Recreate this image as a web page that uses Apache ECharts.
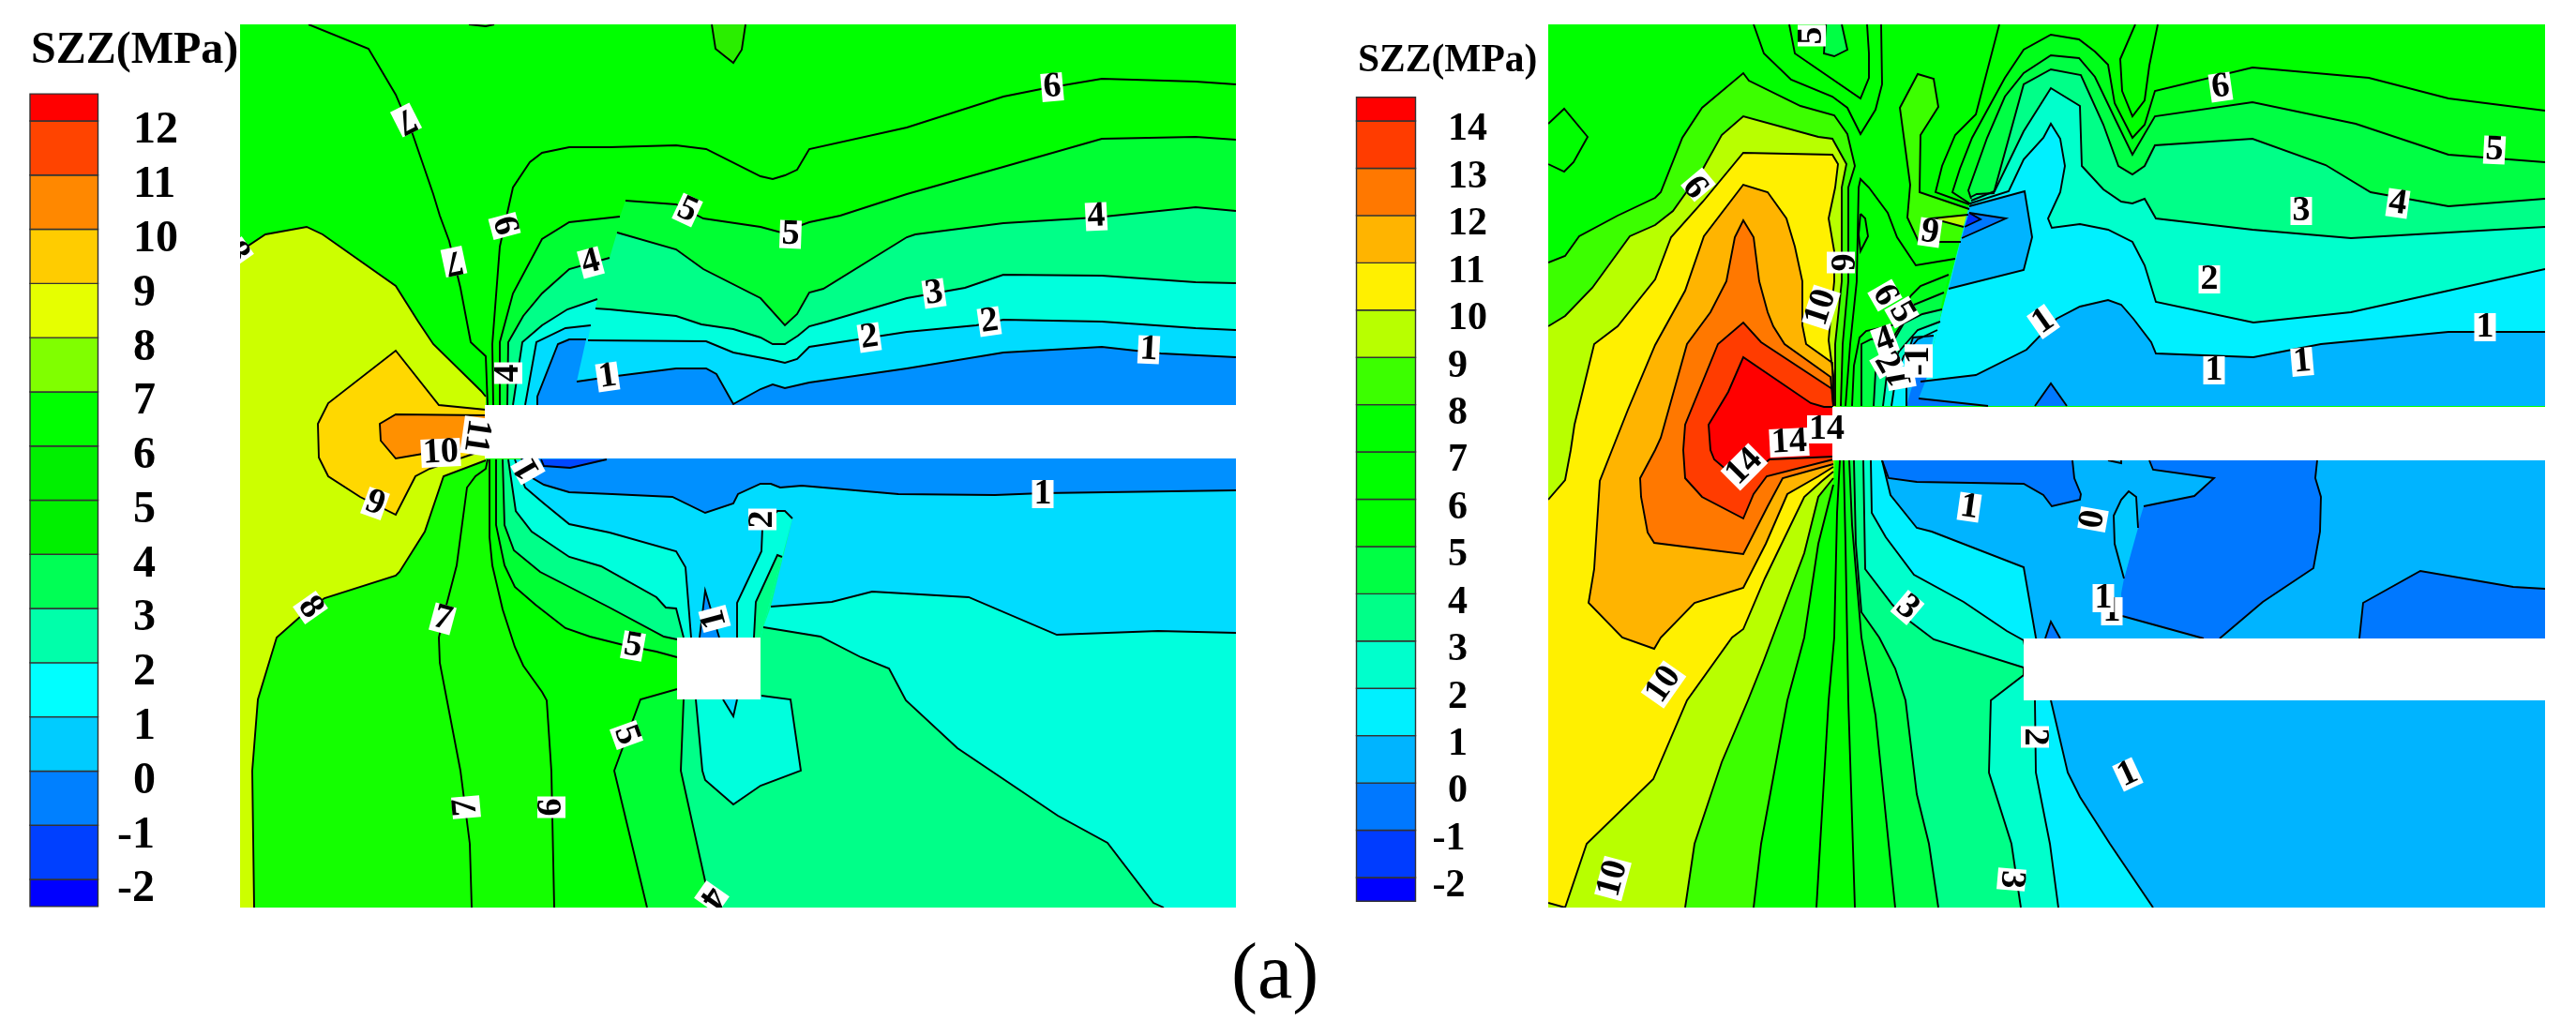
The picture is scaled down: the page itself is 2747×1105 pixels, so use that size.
<!DOCTYPE html>
<html><head><meta charset="utf-8">
<style>html,body{margin:0;background:#fff}#c{width:2747px;height:1105px}</style>
<script src="https://cdn.jsdelivr.net/npm/echarts@6/dist/echarts.min.js"></script>
</head><body><div id="c"></div>
<script>
// ---------- colour scales (low to high) and tick levels
const leftLevels=[-2,-1,0,1,2,3,4,5,6,7,8,9,10,11,12];
const leftScale=['#0000ff','#0040ff','#0080ff','#00ccff','#00ffff','#00ffaa','#00ff55','#00f000','#00f000','#00ff00','#80ff00','#e6ff00','#ffcc00','#ff8800','#ff4400','#ff0000'];
const rightLevels=[-2,-1,0,1,2,3,4,5,6,7,8,9,10,11,12,13,14];
const rightScale=['#0000ff','#003cff','#0078ff','#00b4ff','#00f0ff','#00ffcc','#00ff88','#00ff44','#00ff00','#00ff00','#00ff00','#3cff00','#b8ff00','#fff000','#ffb400','#ff7800','#ff3c00','#ff0000'];

// ---------- left panel contour lines (spatial axis units)
const L7top=[[329,26],[393,52],[422,101],[440,143],[462,207],[469,230],[479,257],[491,307],[502,365],[518,380],[520,432]];
const L8up=[[256,268],[283,250],[327,242],[344,250],[422,305],[446,343],[462,367],[513,417],[518,423]];
const L8low=[[518,491],[473,508],[453,567],[426,610],[422,614],[346,638],[321,657],[295,680],[275,746],[269,822],[271,968]];
const L9=[[518,437],[468,432],[422,374],[350,430],[339,452],[340,488],[350,508],[384,530],[422,549],[443,508],[458,500],[505,484],[518,482]];
const L10=[[518,443],[422,442],[405,452],[406,470],[422,489],[451,484],[518,477]];
const L6up=[[526,432],[525,367],[533,263],[547,200],[565,173],[578,163],[607,157],[650,157],[721,155],[753,159],[811,188],[824,191],[837,187],[850,181],[863,159],[967,136],[1070,103],[1110,95],[1175,84],[1275,87],[1318,90]];
const L5a=[[533,432],[533,365],[547,313],[578,255],[607,237],[661,231]];
const L5b=[[667,214],[721,218],[750,233],[811,242],[833,248],[863,237],[896,230],[967,207],[1070,178],[1175,148],[1275,146],[1318,149]];
const L4a=[[541,432],[542,365],[558,337],[578,313],[607,287],[650,275]];
const L4b=[[658,248],[721,266],[750,287],[811,318],[837,347],[850,335],[863,312],[878,308],[967,253],[976,250],[1070,238],[1168,232],[1275,221],[1318,225]];
const L3a=[[547,432],[557,365],[578,347],[605,330],[637,319]];
const L3b=[[635,329],[650,330],[721,337],[748,346],[782,351],[811,360],[824,367],[837,367],[851,358],[863,348],[882,343],[967,318],[1029,307],[1070,293],[1175,294],[1275,301],[1318,302]];
const L2a=[[560,432],[572,365],[603,350],[630,347]];
const L2b=[[627,363],[753,364],[782,376],[824,384],[837,387],[850,383],[863,370],[967,354],[1041,347],[1070,341],[1175,343],[1275,350],[1318,352]];
const L1a=[[573,432],[573,423],[595,367],[607,362],[625,362]];
const L1b=[[615,407],[650,402],[721,393],[753,393],[764,399],[782,431],[811,415],[824,410],[837,414],[863,408],[967,393],[1070,376],[1175,370],[1238,377],[1318,381]];
const LtopNub=[[759,26],[763,52],[773,60],[782,67],[791,53],[795,26]];
const LtopTiny=[[500,26],[518,28],[527,26]];
const L7low=[[520,490],[518,500],[507,508],[498,520],[487,603],[473,657],[468,680],[469,707],[491,822],[501,900],[503,968]];
const L6low=[[522,490],[522,573],[525,603],[536,650],[549,690],[558,710],[578,738],[583,747],[588,823],[591,968]];
const L5low=[[529,490],[529,560],[538,603],[549,626],[571,645],[603,670],[629,679],[665,688],[700,695],[722,701]];
const L5under=[[722,735],[683,746],[655,822],[690,968]];
const L4low=[[536,490],[538,560],[548,587],[576,610],[650,648],[708,679],[722,682]];
const L4under=[[729,746],[726,822],[752,940],[762,968]];
const L3low=[[542,490],[550,545],[567,567],[607,594],[641,604],[700,637],[710,648],[721,649],[729,680]];
const L2low=[[549,490],[560,520],[580,537],[607,559],[650,568],[721,588],[731,605],[737,680]];
const L2spike=[[786,680],[786,643],[812,588],[813,563],[829,545],[837,545],[845,553]];
const L3spike=[[804,680],[806,642],[829,592],[834,594]];
const L2right=[[822,647],[887,642],[930,631],[1033,637],[1127,677],[1235,673],[1318,675]];
const L3right=[[814,669],[875,679],[918,701],[948,713],[966,747],[1021,798],[1128,870],[1181,899],[1230,963],[1241,968]];
const L1low=[[556,489],[568,510],[580,517],[607,525],[653,527],[717,530],[752,547],[782,537],[787,527],[811,516],[822,516],[832,520],[855,518],[958,527],[1061,528],[1112,526],[1318,523]];
const L0low=[[577,490],[580,497],[608,499],[647,490]];
const LblueSpike=[[746,680],[752,630],[767,680]];
const Lpocket=[[742,746],[749,822],[752,832],[782,858],[811,838],[854,822],[843,746],[812,742]];
const LpocketSpike=[[771,746],[782,764],[786,746]];
const leftFills=[
 ['#00ff00',[[256,26],[1318,26],[1318,968],[256,968]]],
 ['#2aee00',LtopNub],
 ['#14ff00',[...L6low,[256,968],[256,489]]],
 ['#ccff00',[...L8up,...L8low,[256,968]]],
 ['#ffd800',L9],
 ['#ff9000',L10],
 ['#00ff33',[...L5a,...L5b,[1318,432]]],
 ['#00ff88',[...L4a,...L4b,[1318,432]]],
 ['#00ffdd',[...L3a,...L3b,[1318,432]]],
 ['#00dcff',[...L2a,...L2b,[1318,432]]],
 ['#0090ff',[...L1a,...L1b,[1318,432]]],
 ['#00ff33',[...L5low,...L5under,[1318,968],[1318,489]]],
 ['#00ff88',[...L4low,...L4under,[1318,968],[1318,489]]],
 ['#00ffdd',[...L3low,[811,680],[845,553],[1318,489]]],
 ['#00dcff',[...L2low,...L2spike,...L2right,[1318,489]]],
 ['#00ffdd',[...L2right,[1318,968],...L3right.slice().reverse()]],
 ['#00ff88',[...L3spike,[811,680]]],
 ['#0090ff',[...L1low,[1318,489]]],
 ['#0048ff',L0low],
 ['#0090ff',LblueSpike],
 ['#00ffdd',Lpocket],
 ['#00dcff',LpocketSpike]
];
const leftStrokes=[L7top,L8up,L8low,[...L9,L9[0]],[...L10],L6up,L5a,L5b,L4a,L4b,L3a,L3b,L2a,L2b,L1a,L1b,LtopNub,LtopTiny,L7low,L6low,L5low,L5under,L4low,L4under,L3low,L2low,L2spike,L3spike,L2right,L3right,L1low,L0low,LblueSpike,Lpocket,LpocketSpike];
const leftMasks=[[517,432,1318,489],[722,680,811,746]];
const leftLabels=[
 ['7',433,128,207],['7',484,279,192],['6',538,241,-75],['4',630,280,15],['4',542,398,90],['1',648,402,8],
 ['11',508,465,-98],['10',470,483,3],['1',563,500,120],['9',400,537,-20],['8',331,648,-55],['7',472,660,-15],
 ['7',497,861,95],['6',588,861,90],['5',675,689,-10],['5',668,784,-70],['5',733,224,-25],['5',843,250,-2],
 ['6',1122,93,5],['4',1169,231,3],['3',996,313,8],['2',927,360,8],['2',1055,343,8],['1',1225,373,-3],
 ['1',1112,527,0],['2',813,554,90],['1',762,660,105],['4',759,957,-125],['8',252,270,-55],['4',1333,225,0]
];

// ---------- right panel contour lines
const R8=[[1651,280],[1669,273],[1684,252],[1725,230],[1765,211],[1771,205],[1794,147],[1815,115],[1859,78],[1865,86],[1920,113],[1956,123],[1970,143],[1978,177],[1971,200],[1971,300],[1965,367],[1963,433]];
const R8low=[[1955,517],[1939,580],[1924,680],[1906,747],[1878,900],[1870,968]];
const R9=[[1651,348],[1669,337],[1698,307],[1738,252],[1765,240],[1784,225],[1816,180],[1836,144],[1859,124],[1939,146],[1954,148],[1969,175],[1964,200],[1964,300],[1957,367],[1957,433]];
const R9low=[[1955,510],[1939,530],[1924,590],[1880,707],[1864,747],[1836,813],[1807,900],[1797,968]];
const R10=[[1651,533],[1669,512],[1675,480],[1679,453],[1700,367],[1725,348],[1765,298],[1782,253],[1816,215],[1859,163],[1954,165],[1960,175],[1957,200],[1950,233],[1956,268],[1956,300],[1952,340],[1950,363],[1955,400],[1955,433]];
const R10low=[[1955,503],[1943,513],[1924,530],[1882,617],[1859,671],[1847,680],[1799,747],[1763,831],[1692,900],[1669,968],[1651,963]];
const R11=[[1955,432],[1954,387],[1926,367],[1922,347],[1922,300],[1914,263],[1905,233],[1885,205],[1859,197],[1817,252],[1797,310],[1765,368],[1736,437],[1719,480],[1706,513],[1700,607],[1694,643],[1730,680],[1764,692],[1771,680],[1807,643],[1859,627],[1883,580],[1906,527],[1939,508],[1955,498]];
const R12=[[1955,433],[1952,402],[1903,367],[1891,348],[1885,333],[1876,300],[1870,253],[1859,235],[1850,253],[1841,300],[1824,333],[1799,367],[1771,467],[1765,480],[1749,510],[1750,530],[1757,568],[1764,579],[1859,591],[1885,540],[1901,510],[1955,495]];
const R13=[[1955,433],[1954,415],[1878,365],[1859,344],[1832,367],[1797,453],[1795,480],[1797,510],[1815,530],[1859,553],[1870,527],[1884,508],[1955,490]];
const R14=[[1955,434],[1945,434],[1931,430],[1859,381],[1843,418],[1822,453],[1824,480],[1828,490],[1857,515],[1887,490],[1955,487]];
const RblobLeft=[[1651,132],[1668,116],[1693,146],[1678,173],[1668,183],[1651,175]];
const RtopV=[[1870,26],[1881,57],[1910,85],[1954,103],[1970,115],[1984,143],[2000,117],[2007,90],[2006,26]];
const RtopInner=[[1908,26],[1914,57],[1984,105],[1993,83],[1993,57],[1991,26]];
const RtopNub=[[1947,26],[1945,57],[1956,60],[1970,53],[1964,26]];
const RVarm=[[1968,433],[1973,367],[1980,300],[1982,200],[1984,191],[1993,200],[2013,227],[2023,253],[2043,283],[2085,276]];
const RsmallLoop=[[1984,228],[1989,233],[1992,252],[1984,268],[1982,250],[1984,228]];
const Rblob8=[[2100,223],[2047,205],[2048,144],[2067,114],[2062,84],[2045,79],[2026,115],[2037,197],[2034,232],[2046,258],[2091,258]];
const Rwedge9=[[2099,229],[2060,233],[2094,242]];
const F6=[[1975,433],[1977,390],[1983,360],[1990,353],[2018,347],[2038,315],[2048,305],[2078,293]];
const F5=[[1985,433],[1985,367],[1995,362],[2020,358],[2041,325],[2073,312]];
const F4=[[1998,433],[2000,397],[2030,345],[2050,335],[2071,330]];
const F3=[[2008,433],[2012,400],[2025,375],[2045,352],[2069,343]];
const F2=[[2017,433],[2022,400],[2030,380],[2045,362],[2066,352]];
const F1=[[2033,433],[2033,400],[2036,372],[2040,360],[2062,358]];
const Rarm=[[2100,218],[2064,205],[2071,177],[2085,144],[2107,122],[2132,26]];
const Rpit=[[2277,26],[2261,63],[2263,97],[2274,124],[2287,107],[2292,70],[2301,26]];
const PA=[[2102,218],[2082,205],[2090,180],[2103,147],[2138,83],[2158,53],[2187,37],[2217,42],[2234,55],[2248,69],[2255,110],[2274,147],[2287,133],[2298,97],[2402,72],[2526,83],[2611,105],[2714,118]];
const PB=[[2102,212],[2099,203],[2119,147],[2138,103],[2158,78],[2187,59],[2217,62],[2234,82],[2257,130],[2274,165],[2298,124],[2402,109],[2512,132],[2611,165],[2714,173]];
const PC=[[2102,210],[2108,207],[2126,206],[2158,90],[2187,74],[2219,80],[2243,133],[2259,177],[2274,186],[2287,177],[2298,155],[2402,148],[2480,176],[2528,205],[2611,220],[2714,212]];
const PD=[[2102,214],[2127,204],[2158,140],[2187,94],[2218,113],[2220,177],[2243,202],[2262,215],[2274,217],[2287,212],[2299,233],[2402,245],[2507,254],[2714,242]];
const PE=[[2101,217],[2142,204],[2158,170],[2179,147],[2187,132],[2197,148],[2202,177],[2197,205],[2184,233],[2188,243],[2218,239],[2248,245],[2274,258],[2287,283],[2299,322],[2403,344],[2507,333],[2611,310],[2714,287]];
const Rblock=[[2100,220],[2159,204],[2167,253],[2158,288],[2078,308]];
const Rtri=[[2100,227],[2139,233],[2092,254]];
const RtriIn=[[2100,227],[2112,234],[2095,242]];
const R1up=[[2048,407],[2107,400],[2161,373],[2193,340],[2218,327],[2248,320],[2262,325],[2275,340],[2294,365],[2299,377],[2403,381],[2475,367],[2611,354],[2714,354]];
const Rpeak0=[[2170,433],[2187,409],[2204,433]];
const Rstrip=[[2046,425],[2120,433]];
const R7low=[[1962,491],[1959,547],[1956,680],[1950,747],[1937,968]];
const R6low=[[1966,491],[1968,580],[1971,747],[1978,968]];
const R5low=[[1972,491],[1975,560],[1985,680],[2000,763],[2014,900],[2021,968]];
const R4low=[[1977,491],[1979,580],[1985,653],[2004,680],[2021,713],[2032,747],[2044,847],[2057,900],[2067,968]];
const R3low=[[1987,491],[1989,607],[2018,645],[2037,663],[2062,682],[2158,712],[2158,720],[2123,747],[2121,824],[2145,900],[2155,968]];
const R2low=[[1995,491],[1996,547],[2011,573],[2041,613],[2094,642],[2140,673],[2158,683],[2170,747],[2171,824],[2186,900],[2195,968]];
const R1low=[[2007,491],[2016,528],[2044,563],[2060,567],[2158,605],[2171,680],[2187,747],[2205,824],[2218,850],[2250,900],[2296,968]];
const Rdark1=[[2007,491],[2014,510],[2044,514],[2158,516],[2179,528],[2188,540],[2218,533],[2219,527],[2212,510],[2210,491]];
const Rdark2=[[2292,491],[2296,501],[2361,510],[2340,529],[2286,540]];
const RdarkSeam=[[2279,563],[2265,617],[2262,633]];
const Rdark2b=[[2263,657],[2350,681]];
const Rdark2c=[[2367,681],[2413,642],[2467,606],[2474,567],[2475,530],[2469,510],[2471,491]];
const Rspike=[[2280,563],[2278,530],[2270,524],[2262,533],[2254,550],[2255,580],[2265,617]];
const Rdark3=[[2516,681],[2520,643],[2581,609],[2680,626],[2714,628]];
const Rpeak1=[[2181,681],[2187,663],[2197,681]];
const Rtiny=[[2248,491],[2262,494],[2262,491]];
const rightFills=[
 ['#00ff00',[[1651,26],[2714,26],[2714,968],[1651,968]]],
 ['#00ff44',RtopNub],
 ['#3cff00',[...R8,...R8low,[1651,968]]],
 ['#b8ff00',[...R9,...R9low,[1651,968]]],
 ['#fff000',[...R10,...R10low]],
 ['#ffb400',R11],
 ['#ff7800',R12],
 ['#ff3c00',R13],
 ['#ff0000',R14],
 ['#00ff1a',[...F6,[2047,433]]],
 ['#00ff44',[...F5,[2047,433]]],
 ['#00ff88',[...F4,[2047,433]]],
 ['#00ffcc',[...F3,[2047,433]]],
 ['#00f0ff',[...F2,[2047,433]]],
 ['#00b4ff',[...F1,[2047,433]]],
 ['#3cff00',Rblob8],
 ['#b8ff00',Rwedge9],
 ['#00ff1a',[...PA,[2714,433],[2045,433]]],
 ['#00ff44',[...PB,[2714,433],[2045,433]]],
 ['#00ff88',[...PC,[2714,433],[2045,433]]],
 ['#00ffcc',[...PD,[2714,433],[2045,433]]],
 ['#00f0ff',[...PE,[2714,433],[2045,433]]],
 ['#00b4ff',Rblock],
 ['#0078ff',Rtri],
 ['#0030ff',RtriIn],
 ['#00b4ff',[...R1up,[2714,433],[2045,433]]],
 ['#0078ff',Rpeak0],
 ['#0078ff',[...Rstrip,[2033,433],[2042,402],[2055,402]]],
 ['#00ff1a',[...R6low,[2714,968],[2714,491]]],
 ['#00ff44',[...R5low,[2714,968],[2714,491]]],
 ['#00ff88',[...R4low,[2714,968],[2714,491]]],
 ['#00ffcc',[...R3low,[2714,968],[2714,491]]],
 ['#00f0ff',[...R2low,[2714,968],[2714,491]]],
 ['#00b4ff',[...R1low,[2714,968],[2714,491]]],
 ['#0078ff',Rdark1],
 ['#0078ff',[...Rdark2,...RdarkSeam,...Rdark2b,...Rdark2c]],
 ['#00c8ff',Rspike],
 ['#0078ff',[...Rdark3,[2714,681]]],
 ['#0078ff',Rpeak1],
 ['#00b4ff',Rtiny]
];
const rightStrokes=[R8,R8low,R9,R9low,R10,R10low,R11,R12,R13,R14,RblobLeft,RtopV,RtopInner,RtopNub,RVarm,RsmallLoop,Rblob8,Rwedge9,F6,F5,F4,F3,F2,F1,Rarm,Rpit,PA,PB,PC,PD,PE,Rblock,Rtri,RtriIn,R1up,Rpeak0,Rstrip,R7low,R6low,R5low,R4low,R3low,R2low,R1low,Rdark1,Rdark2,Rdark2b,Rdark2c,Rspike,Rdark3,Rpeak1,Rtiny];
const rightMasks=[[1954,434,2714,491],[2158,681,2714,747]];
const rightLabels=[
 ['5',1932,38,90],['9',1811,197,130],['6',1963,280,-90],['10',1942,328,72],['6',2010,315,-60],['5',2028,333,-60],
 ['4',2010,363,20],['2',2012,387,-60],['1',2027,403,100],['-1',2046,385,90],['9',2058,248,-8],
 ['14',1860,498,45],['14',1908,472,3],['14',1948,458,0],['10',1774,730,55],['10',1720,937,75],
 ['3',2034,648,-40],['3',2145,938,-95],['2',2170,786,-90],['1',2269,826,25],['1',2100,541,-8],['0',2232,554,80],
 ['1',2252,652,0],['1',2243,638,0],['1',2179,343,35],['1',2361,395,0],['1',2455,386,5],['1',2650,349,0],
 ['2',2356,298,0],['3',2454,225,0],['4',2557,217,-8],['5',2660,160,-3],['6',2368,93,8]
];

const SERIF='"Liberation Serif","Times New Roman",serif';
function fillSeries(fills,idx){
 return {type:'custom',coordinateSystem:'cartesian2d',xAxisIndex:idx,yAxisIndex:idx,clip:true,silent:true,z:2,animation:false,
  data:fills.map((s,i)=>[i]),encode:{x:0,y:0},
  renderItem(p,api){const s=fills[p.dataIndex];
   return {type:'polygon',shape:{points:s[1].map(q=>api.coord(q))},style:{fill:s[0]}};}};
}
function lineSeries(segs,idx){
 return {type:'custom',coordinateSystem:'cartesian2d',xAxisIndex:idx,yAxisIndex:idx,clip:true,silent:true,z:3,animation:false,
  data:segs.map((s,i)=>[i]),encode:{x:0,y:0},
  renderItem(p,api){return {type:'polyline',shape:{points:segs[p.dataIndex].map(q=>api.coord(q))},style:{fill:null,stroke:'#000',lineWidth:1.9}};}};
}
function maskSeries(m,idx){
 return {type:'custom',coordinateSystem:'cartesian2d',xAxisIndex:idx,yAxisIndex:idx,silent:true,z:4,animation:false,clip:true,
  data:m,encode:{x:0,y:1},
  renderItem(p,api){const a=api.coord([api.value(0),api.value(1)]),b=api.coord([api.value(2),api.value(3)]);
   return {type:'rect',shape:{x:a[0],y:a[1],width:b[0]-a[0],height:b[1]-a[1]},style:{fill:'#fff'}};}};
}
function labelSeries(l,idx){
 return {type:'custom',coordinateSystem:'cartesian2d',xAxisIndex:idx,yAxisIndex:idx,silent:true,z:5,animation:false,clip:true,
  data:l.map((v,i)=>[i]),encode:{x:0,y:0},
  renderItem(p,api){const v=l[p.dataIndex],c=api.coord([v[1],v[2]]);
   return {type:'text',x:c[0],y:c[1],rotation:v[3]*Math.PI/180,
    style:{text:v[0],fontFamily:SERIF,fontWeight:'bold',fontSize:38,lineHeight:30,fill:'#000',backgroundColor:'#fff',padding:[0,2],align:'center',verticalAlign:'middle'}};}};
}
function legendSeries(levels,scale,idx){
 const lo=levels[0],hi=levels[levels.length-1];
 const edges=[lo-0.5].concat(levels,[hi+0.5]);
 return {type:'custom',coordinateSystem:'cartesian2d',xAxisIndex:idx,yAxisIndex:idx,silent:true,z:2,animation:false,clip:false,
  data:scale.map((c,i)=>[i]),encode:{x:0,y:0},
  renderItem(p,api){const i=p.dataIndex,a=api.coord([0,edges[i+1]]),b=api.coord([1,edges[i]]);
   return {type:'rect',shape:{x:a[0],y:a[1],width:b[0]-a[0],height:b[1]-a[1]},style:{fill:scale[i],stroke:'#333',lineWidth:1.4}};}};
}
const noAxis=(min,max,inv)=>({type:'value',show:false,min,max,inverse:!!inv,splitLine:{show:false}});
function legendAxis(levels,margin,hang,size,pad){
 return {type:'value',position:'right',min:levels[0]-1,max:levels[levels.length-1]+1,interval:1,
  axisLine:{show:false},axisTick:{show:false},splitLine:{show:false},
  axisLabel:{show:true,margin,align:'left',verticalAlign:'middle',padding:[pad,0,0,0],
   formatter:v=>levels.indexOf(v)<0?'':(v<0?'{d|'+v+'}':'{h| }{d|'+v+'}'),
   rich:{h:{width:hang,fontSize:size},d:{fontFamily:SERIF,fontWeight:'bold',fontSize:size,color:'#000'}}}};
}
const option={
 animation:false,backgroundColor:'#fff',
 title:[
  {text:'SZZ(MPa)',left:33,top:31,padding:0,textStyle:{fontFamily:SERIF,fontWeight:'bold',fontSize:48,color:'#000'}},
  {text:'SZZ(MPa)',left:1448,top:44,padding:0,textStyle:{fontFamily:SERIF,fontWeight:'bold',fontSize:41.5,color:'#000'}},
  {text:'(a)',left:1313,top:1000,padding:0,textStyle:{fontFamily:SERIF,fontWeight:'normal',fontSize:84,color:'#000'}}
 ],
 grid:[
  {left:256,top:26,width:1062,height:942},
  {left:1651,top:26,width:1063,height:942},
  {left:32,top:71.2,width:72.5,height:924.6},
  {left:1446.5,top:78.6,width:63,height:907.8}
 ],
 xAxis:[
  Object.assign(noAxis(256,1318),{gridIndex:0}),
  Object.assign(noAxis(1651,2714),{gridIndex:1}),
  Object.assign(noAxis(0,1),{gridIndex:2}),
  Object.assign(noAxis(0,1),{gridIndex:3})
 ],
 yAxis:[
  Object.assign(noAxis(26,968,true),{gridIndex:0}),
  Object.assign(noAxis(26,968,true),{gridIndex:1}),
  Object.assign(legendAxis(leftLevels,20.5,17,48,22),{gridIndex:2}),
  Object.assign(legendAxis(rightLevels,18,16.5,42,19),{gridIndex:3})
 ],
 series:[
  fillSeries(leftFills,0),lineSeries(leftStrokes,0),maskSeries(leftMasks,0),labelSeries(leftLabels,0),
  fillSeries(rightFills,1),lineSeries(rightStrokes,1),maskSeries(rightMasks,1),labelSeries(rightLabels,1),
  legendSeries(leftLevels,leftScale,2),legendSeries(rightLevels,rightScale,3)
 ]
};
const chart=echarts.init(document.getElementById('c'),null,{renderer:'canvas'});
chart.setOption(option);
</script></body></html>
